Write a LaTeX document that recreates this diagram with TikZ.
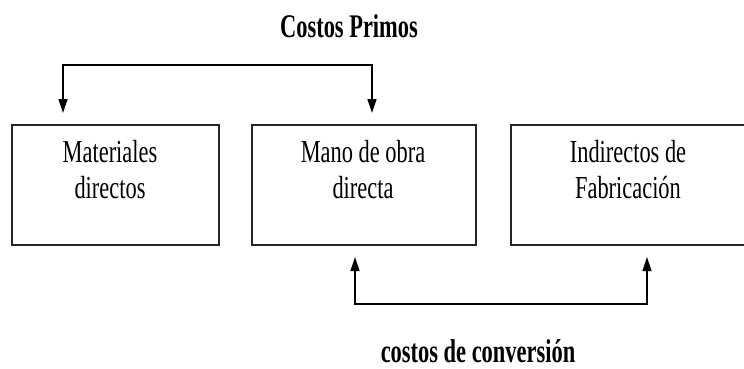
\documentclass[tikz,border=0pt]{standalone}
\usepackage{fontspec}
\setmainfont{Liberation Serif}
\newfontfamily\boxfont[FakeStretch=0.7]{Liberation Serif}
\newfontfamily\lblfont[FakeStretch=0.68]{Liberation Serif}
\usetikzlibrary{arrows.meta}
\tikzset{
  costbox/.style={draw=black!85, line width=1.6pt, minimum width=#1, minimum height=120pt, inner sep=0pt, anchor=north west},
  boxtext/.style={anchor=base, inner sep=0pt, font=\boxfont\fontsize{32}{38}\selectfont},
  lbl/.style={anchor=base, inner sep=0pt, font=\lblfont\bfseries\fontsize{33}{38}\selectfont},
  conn/.style={line width=1.3pt, {Triangle[length=14pt,width=9pt]}-{Triangle[length=14pt,width=9pt]}}
}
\begin{document}
\begin{tikzpicture}[x=1pt,y=-1pt]
\useasboundingbox (0,0) rectangle (744,368);
\clip (0,0) rectangle (744,368);
% boxes
\node[costbox=207pt] (mat)  at (11,124) {};
\node[costbox=224pt] (mano) at (251,124) {};
\node[costbox=240pt] (ind)  at (510,124) {};
% box texts
\node[boxtext] (mat1)  at (110,162) {Materiales};
\node[boxtext] (mat2)  at (110,198) {directos};
\node[boxtext] (mano1) at (363,162) {Mano de obra};
\node[boxtext] (mano2) at (363,198) {directa};
\node[boxtext] (ind1)  at (628,162) {Indirectos de};
\node[boxtext] (ind2)  at (628,198) {Fabricación};
% labels
\node[lbl] (primos) at (349,37) {Costos Primos};
\node[lbl] (conv)   at (478,362) {costos de conversión};
% connector coordinates
\coordinate (p1) at (63,113);
\coordinate (p2) at (63,65);
\coordinate (p3) at (372,65);
\coordinate (p4) at (372,113);
\coordinate (q1) at (355,257);
\coordinate (q2) at (355,304);
\coordinate (q3) at (647,304);
\coordinate (q4) at (647,257);
\draw[conn] (p1) -- (p2) -- (p3) -- (p4);
\draw[conn] (q1) -- (q2) -- (q3) -- (q4);
\end{tikzpicture}
\end{document}
